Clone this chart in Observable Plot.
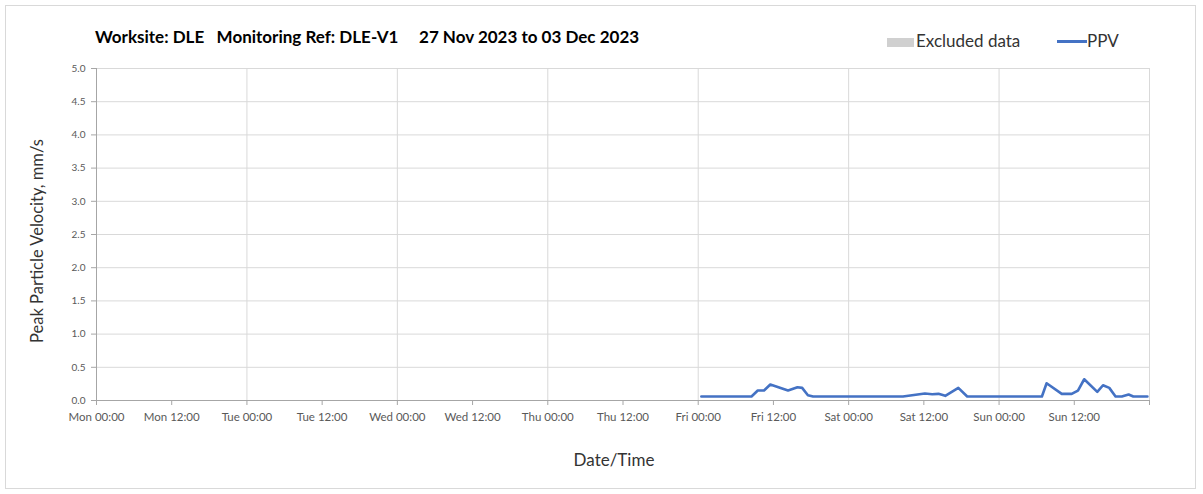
<!DOCTYPE html>
<html><head><meta charset="utf-8">
<script src="https://cdn.jsdelivr.net/npm/d3@7"></script>
<script src="https://cdn.jsdelivr.net/npm/@observablehq/plot@0.6"></script>
<style>
body{margin:0;background:#fff;font-family:Lato,"Open Sans",sans-serif;}
#wrap{position:relative;width:1203px;height:494px;overflow:hidden;background:#fff;}
#frame{position:absolute;left:5px;top:5px;width:1191px;height:484px;border:1px solid #d9d9d9;box-sizing:border-box;}
#title{position:absolute;left:95px;top:27px;font-weight:bold;font-size:17px;color:#000;white-space:pre;line-height:20px;}
.lg{position:absolute;font-size:17px;color:#333;line-height:20px;white-space:nowrap;}
.sw{position:absolute;}
#chart{position:absolute;left:0;top:55px;}
#ylab{position:absolute;left:37px;top:241px;transform:translate(-50%,-50%) rotate(-90deg);font-size:16.5px;color:#333;white-space:nowrap;}
#xlab{position:absolute;left:614px;top:459px;transform:translate(-50%,-50%);font-size:17px;color:#333;white-space:nowrap;}
</style>
</head><body>
<div id="wrap">
  <div id="frame"></div>
  <div id="title"></div>
  <div class="sw" style="left:887px;top:38px;width:27px;height:9px;background:#d0d0d0"></div>
  <div class="lg" id="lg0" style="left:916px;top:31px"></div>
  <div class="sw" style="left:1057px;top:40px;width:30px;height:3px;background:#4472c4"></div>
  <div class="lg" id="lg1" style="left:1087px;top:31px"></div>
  <div id="chart"></div>
  <div id="ylab"></div>
  <div id="xlab"></div>
</div>
<script>
const titleText = "Worksite: DLE   Monitoring Ref: DLE-V1     27 Nov 2023 to 03 Dec 2023";
const yLabel = "Peak Particle Velocity, mm/s";
const xLabel = "Date/Time";
const legendLabels = ["Excluded data", "PPV"];

const xDomain = ["2023-11-27T00:00Z", "2023-12-04T00:00Z"];
const xTickTimes = [
  "2023-11-27T00:00Z","2023-11-27T12:00Z","2023-11-28T00:00Z","2023-11-28T12:00Z",
  "2023-11-29T00:00Z","2023-11-29T12:00Z","2023-11-30T00:00Z","2023-11-30T12:00Z",
  "2023-12-01T00:00Z","2023-12-01T12:00Z","2023-12-02T00:00Z","2023-12-02T12:00Z",
  "2023-12-03T00:00Z","2023-12-03T12:00Z","2023-12-04T00:00Z"
];
const xTickLabels = [
  "Mon 00:00","Mon 12:00","Tue 00:00","Tue 12:00","Wed 00:00","Wed 12:00",
  "Thu 00:00","Thu 12:00","Fri 00:00","Fri 12:00","Sat 00:00","Sat 12:00",
  "Sun 00:00","Sun 12:00",""
];
const dayLines = ["2023-11-28T00:00Z","2023-11-29T00:00Z","2023-11-30T00:00Z","2023-12-01T00:00Z","2023-12-02T00:00Z","2023-12-03T00:00Z","2023-12-04T00:00Z"];
const yTicks = [0,0.5,1,1.5,2,2.5,3,3.5,4,4.5,5];

const ppvTimes = [
  "2023-12-01T00:30Z","2023-12-01T08:30Z","2023-12-01T09:30Z","2023-12-01T10:30Z","2023-12-01T11:30Z",
  "2023-12-01T14:20Z","2023-12-01T15:50Z","2023-12-01T16:35Z","2023-12-01T17:30Z","2023-12-01T18:20Z",
  "2023-12-02T08:40Z","2023-12-02T12:10Z","2023-12-02T13:20Z","2023-12-02T14:20Z","2023-12-02T15:25Z",
  "2023-12-02T17:30Z","2023-12-02T18:55Z",
  "2023-12-03T06:50Z","2023-12-03T07:35Z","2023-12-03T10:00Z","2023-12-03T11:35Z","2023-12-03T12:35Z",
  "2023-12-03T13:35Z","2023-12-03T15:40Z","2023-12-03T16:35Z","2023-12-03T17:35Z","2023-12-03T18:35Z",
  "2023-12-03T19:35Z","2023-12-03T20:40Z","2023-12-03T21:25Z","2023-12-03T23:40Z"
];
const ppvValues = [
  0.06,0.06,0.15,0.15,0.24,
  0.15,0.20,0.19,0.08,0.06,
  0.06,0.105,0.095,0.10,0.07,
  0.19,0.06,
  0.06,0.26,0.10,0.10,0.15,
  0.32,0.13,0.23,0.19,0.06,
  0.06,0.09,0.06,0.06
];

const data = ppvTimes.map((t,i)=>({time:new Date(t), ppv:ppvValues[i]}));
const tickDates = xTickTimes.map(t=>new Date(t));
const labelByTime = new Map(tickDates.map((d,i)=>[+d, xTickLabels[i]]));

document.getElementById("title").textContent = titleText;
document.getElementById("ylab").textContent = yLabel;
document.getElementById("xlab").textContent = xLabel;
document.getElementById("lg0").textContent = legendLabels[0];
document.getElementById("lg1").textContent = legendLabels[1];

const plot = Plot.plot({
  width: 1203,
  height: 439,
  marginTop: 13,
  marginBottom: 94,
  marginLeft: 96,
  marginRight: 54,
  style: {fontFamily: "Lato, 'Open Sans', sans-serif", background: "transparent"},
  x: {type: "utc", domain: xDomain.map(t=>new Date(t))},
  y: {domain: [0, 5]},
  marks: [
    Plot.ruleY(yTicks.filter(d=>d>0), {stroke: "#d9d9d9", strokeWidth: 1}),
    Plot.ruleX(dayLines.map(t=>new Date(t)), {stroke: "#d9d9d9", strokeWidth: 1}),
    Plot.ruleX([new Date(xDomain[0])], {stroke: "#a6a6a6", strokeWidth: 1}),
    Plot.ruleY([0], {stroke: "#a6a6a6", strokeWidth: 1}),
    Plot.axisX({ticks: tickDates, tickFormat: d=>labelByTime.get(+d) ?? "", tickSize: 5, tickPadding: 7,
      stroke: "#a6a6a6", color: "#595959", fontSize: 11.5, label: null}),
    Plot.axisY({ticks: yTicks, tickFormat: d3.format(".1f"), tickSize: 5, tickPadding: 6,
      stroke: "#a6a6a6", color: "#595959", fontSize: 10, label: null}),
    Plot.line(data, {x: "time", y: "ppv", stroke: "#4472c4", strokeWidth: 2.6, strokeLinejoin: "round"})
  ]
});
document.getElementById("chart").appendChild(plot);
</script>
</body></html>
